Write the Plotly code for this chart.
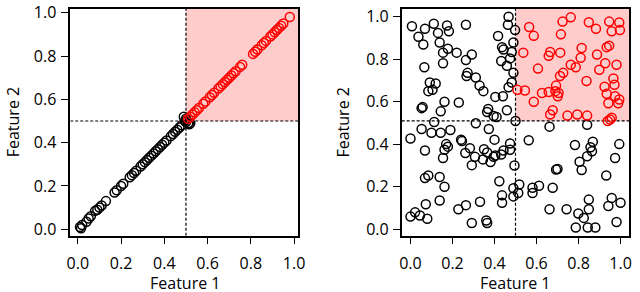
import plotly.graph_objects as go

# ---------------- data ----------------
# Left panel: correlated features (black = not both > 0.5, red = both > 0.5)
left_black_x = [0.01, 0.015, 0.02, 0.04, 0.05, 0.06, 0.08, 0.09, 0.10, 0.11, 0.13, 0.17, 0.18, 0.20,
                0.21, 0.24, 0.25, 0.26, 0.27, 0.29, 0.30, 0.31, 0.32, 0.33, 0.34, 0.35, 0.36, 0.37,
                0.38, 0.39, 0.40, 0.41, 0.43, 0.44, 0.45, 0.46, 0.47, 0.48, 0.49, 0.50, 0.495, 0.51,
                0.52, 0.515, 0.50]
left_black_y = [0.01, 0.005, 0.02, 0.035, 0.05, 0.06, 0.085, 0.09, 0.10, 0.11, 0.13, 0.17, 0.18, 0.20,
                0.21, 0.24, 0.25, 0.26, 0.27, 0.29, 0.30, 0.31, 0.32, 0.33, 0.34, 0.35, 0.36, 0.37,
                0.38, 0.39, 0.40, 0.41, 0.43, 0.44, 0.45, 0.46, 0.47, 0.48, 0.52, 0.51, 0.50, 0.49,
                0.49, 0.485, 0.495]
left_red_x = [0.51, 0.52, 0.53, 0.54, 0.55, 0.56, 0.58, 0.59, 0.61, 0.62, 0.63, 0.65, 0.66, 0.67,
              0.68, 0.69, 0.70, 0.71, 0.72, 0.73, 0.75, 0.76, 0.81, 0.82, 0.83, 0.85, 0.86, 0.87,
              0.89, 0.90, 0.91, 0.92, 0.93, 0.94, 0.95, 0.98]
left_red_y = [0.51, 0.52, 0.53, 0.54, 0.55, 0.56, 0.58, 0.59, 0.61, 0.62, 0.63, 0.65, 0.66, 0.67,
              0.68, 0.69, 0.70, 0.71, 0.72, 0.73, 0.75, 0.76, 0.81, 0.82, 0.83, 0.85, 0.86, 0.87,
              0.89, 0.90, 0.91, 0.92, 0.93, 0.94, 0.95, 0.98]

# Right panel: independent features
right_black_x = [0.007, 0.069, 0.111, 0.174, 0.183, 0.131, 0.038, 0.264, 0.061, 0.139, 0.178, 0.155,
                 0.220, 0.292, 0.264, 0.155, 0.066, 0.272, 0.267, 0.311, 0.092, 0.120, 0.329, 0.347,
                 0.085, 0.105, 0.162, 0.230, 0.053, 0.058, 0.144, 0.370, 0.404, 0.440, 0.365, 0.396,
                 0.410, 0.459, 0.113, 0.311,
                 0.467, 0.464, 0.417, 0.436, 0.443, 0.474, 0.432, 0.459, 0.482, 0.490, 0.482, 0.467,
                 0.490, 0.498, 0.500,
                 0.053, 0.100, 0.144, 0.190, 0.000, 0.373, 0.400, 0.069, 0.170, 0.178, 0.162, 0.155,
                 0.241, 0.245, 0.283, 0.261, 0.307, 0.292, 0.350, 0.365, 0.345, 0.381, 0.396, 0.404,
                 0.432, 0.443, 0.474, 0.474, 0.495, 0.069, 0.085, 0.139, 0.162, 0.423, 0.436, 0.436,
                 0.490, 0.490, 0.073, 0.139, 0.000, 0.022, 0.045, 0.080, 0.228, 0.264, 0.331, 0.292,
                 0.361, 0.365,
                 0.662, 0.841, 0.563, 0.783, 0.868, 0.857, 0.864, 0.994, 0.841, 0.805, 0.815, 0.974,
                 0.693, 0.700, 0.932, 0.518, 0.513, 0.581, 0.581, 0.612, 0.677, 0.662, 0.743, 0.799,
                 0.825, 0.849, 0.849, 0.787, 0.844, 0.880, 0.981, 0.958, 0.942, 1.000]
right_black_y = [0.955, 0.943, 0.967, 0.959, 0.932, 0.924, 0.906, 0.962, 0.869, 0.879, 0.849, 0.831,
                 0.831, 0.822, 0.796, 0.781, 0.762, 0.736, 0.721, 0.714, 0.691, 0.686, 0.676, 0.650,
                 0.650, 0.656, 0.600, 0.597, 0.570, 0.575, 0.555, 0.566, 0.623, 0.626, 0.552, 0.533,
                 0.528, 0.560, 0.505, 0.499,
                 1.000, 0.962, 0.909, 0.857, 0.846, 0.804, 0.792, 0.769, 0.834, 0.879, 0.691, 0.668,
                 0.736, 0.937, 0.510,
                 0.472, 0.454, 0.454, 0.467, 0.427, 0.472, 0.422, 0.371, 0.401, 0.389, 0.374, 0.336,
                 0.422, 0.415, 0.382, 0.359, 0.341, 0.302, 0.377, 0.362, 0.329, 0.317, 0.341, 0.347,
                 0.352, 0.371, 0.404, 0.374, 0.300, 0.241, 0.253, 0.246, 0.200, 0.226, 0.160, 0.125,
                 0.193, 0.155, 0.118, 0.136, 0.060, 0.080, 0.065, 0.050, 0.095, 0.114, 0.130, 0.030,
                 0.042, 0.030,
                 0.483, 0.492, 0.419, 0.397, 0.412, 0.386, 0.367, 0.401, 0.344, 0.318, 0.279, 0.336,
                 0.281, 0.284, 0.253, 0.211, 0.171, 0.196, 0.171, 0.205, 0.196, 0.095, 0.095, 0.075,
                 0.054, 0.095, 0.140, 0.009, 0.009, 0.009, 0.035, 0.148, 0.110, 0.125]
right_red_x = [0.763, 0.724, 0.849, 0.946, 0.994, 0.565, 0.883, 0.958, 0.997, 0.587, 0.716, 0.537,
               0.665, 0.658, 0.713, 0.815, 0.810, 0.888, 0.934, 0.946, 0.607, 0.763, 0.787, 0.899,
               0.927, 0.981, 0.727, 0.712, 0.838, 0.966, 0.971, 0.924, 0.693, 0.690, 0.658, 0.626,
               0.705, 0.701, 0.509, 0.545, 0.934, 0.974, 0.587, 0.942, 0.989, 0.994, 0.677, 0.665,
               0.747, 0.794, 0.841, 0.958, 0.950, 0.939]
right_red_y = [0.997, 0.977, 0.974, 0.977, 0.973, 0.952, 0.943, 0.932, 0.937, 0.910, 0.917, 0.831,
               0.834, 0.816, 0.831, 0.853, 0.807, 0.822, 0.857, 0.864, 0.756, 0.774, 0.762, 0.751,
               0.781, 0.774, 0.736, 0.721, 0.698, 0.710, 0.680, 0.671, 0.676, 0.650, 0.646, 0.641,
               0.641, 0.626, 0.656, 0.653, 0.638, 0.626, 0.600, 0.593, 0.593, 0.611, 0.560, 0.540,
               0.535, 0.540, 0.535, 0.525, 0.517, 0.510]

tick_vals = [0.0, 0.2, 0.4, 0.6, 0.8, 1.0]
tick_text = ["0.0", "0.2", "0.4", "0.6", "0.8", "1.0"]
left_thr_x, left_thr_y = 0.5, 0.5
right_thr_x, right_thr_y = 0.5, 0.51
x_title = "Feature 1"
y_title = "Feature 2"

# ---------------- layout constants ----------------
W, H = 640, 292
L_XR = [-0.035, 1.020]
L_YR = [-0.030, 1.019]
R_XR = [-0.042, 1.042]
R_YR = [-0.030, 1.038]
L_DOM = [67.4 / W, 299.6 / W]
R_DOM = [404.6 / W, 636.3 / W]
Y_DOM = [1 - 237.7 / H, 1 - 1.7 / H]

FONT = "Open Sans"
RED = "#ff0000"
PINK = "#ffcccc"


def marker(color):
    return dict(symbol="circle-open", size=9, color=color, line=dict(width=1.5, color=color))


fig = go.Figure()
fig.add_trace(go.Scatter(x=left_black_x, y=left_black_y, mode="markers", marker=marker("black"),
                         xaxis="x", yaxis="y", showlegend=False))
fig.add_trace(go.Scatter(x=left_red_x, y=left_red_y, mode="markers", marker=marker(RED),
                         xaxis="x", yaxis="y", showlegend=False))
fig.add_trace(go.Scatter(x=right_black_x, y=right_black_y, mode="markers", marker=marker("black"),
                         xaxis="x2", yaxis="y2", showlegend=False))
fig.add_trace(go.Scatter(x=right_red_x, y=right_red_y, mode="markers", marker=marker(RED),
                         xaxis="x2", yaxis="y2", showlegend=False))

shapes = []
for xr, yr, thx, thy, xref, yref in [(L_XR, L_YR, left_thr_x, left_thr_y, "x", "y"),
                                      (R_XR, R_YR, right_thr_x, right_thr_y, "x2", "y2")]:
    shapes.append(dict(type="rect", xref=xref, yref=yref, x0=thx, x1=xr[1], y0=thy, y1=yr[1],
                       fillcolor=PINK, line=dict(width=0), layer="below"))
    shapes.append(dict(type="line", xref=xref, yref=yref, x0=thx, x1=thx, y0=yr[0], y1=yr[1],
                       line=dict(color="black", width=1.2, dash="3px,2px"), layer="below"))
    shapes.append(dict(type="line", xref=xref, yref=yref, x0=xr[0], x1=xr[1], y0=thy, y1=thy,
                       line=dict(color="black", width=1.2, dash="3px,2px"), layer="below"))

axis_common = dict(showline=True, mirror=True, linecolor="black", linewidth=1.5,
                   ticks="outside", ticklen=7, tickwidth=1.3, tickcolor="black",
                   showgrid=False, zeroline=False, tickvals=tick_vals, ticktext=tick_text,
                   ticklabeloverflow="allow",
                   tickfont=dict(family=FONT, size=16, color="black"))

fig.update_layout(
    width=W, height=H, margin=dict(l=0, r=0, t=0, b=0),
    paper_bgcolor="white", plot_bgcolor="white",
    xaxis=dict(domain=L_DOM, range=L_XR, anchor="y", ticklabelstandoff=5, **axis_common),
    yaxis=dict(domain=Y_DOM, range=L_YR, anchor="x", ticklabelstandoff=2, **axis_common),
    xaxis2=dict(domain=R_DOM, range=R_XR, anchor="y2", ticklabelstandoff=5, **axis_common),
    yaxis2=dict(domain=Y_DOM, range=R_YR, anchor="x2", ticklabelstandoff=1, **axis_common),
    shapes=shapes,
    annotations=[
        dict(text=x_title, xref="paper", yref="paper", x=184 / W, y=1 - 287 / H,
             xanchor="center", yanchor="middle", showarrow=False,
             font=dict(family=FONT, size=16, color="black")),
        dict(text=x_title, xref="paper", yref="paper", x=520 / W, y=1 - 287 / H,
             xanchor="center", yanchor="middle", showarrow=False,
             font=dict(family=FONT, size=16, color="black")),
        dict(text=y_title, xref="paper", yref="paper", x=10 / W, y=1 - 120 / H, textangle=-90,
             xanchor="center", yanchor="middle", showarrow=False,
             font=dict(family=FONT, size=16, color="black")),
        dict(text=y_title, xref="paper", yref="paper", x=345 / W, y=1 - 120 / H, textangle=-90,
             xanchor="center", yanchor="middle", showarrow=False,
             font=dict(family=FONT, size=16, color="black")),
    ],
)

fig.write_html("out.html", config={"displayModeBar": False},
               post_script="document.body.style.margin='0';document.body.style.overflow='hidden';")
